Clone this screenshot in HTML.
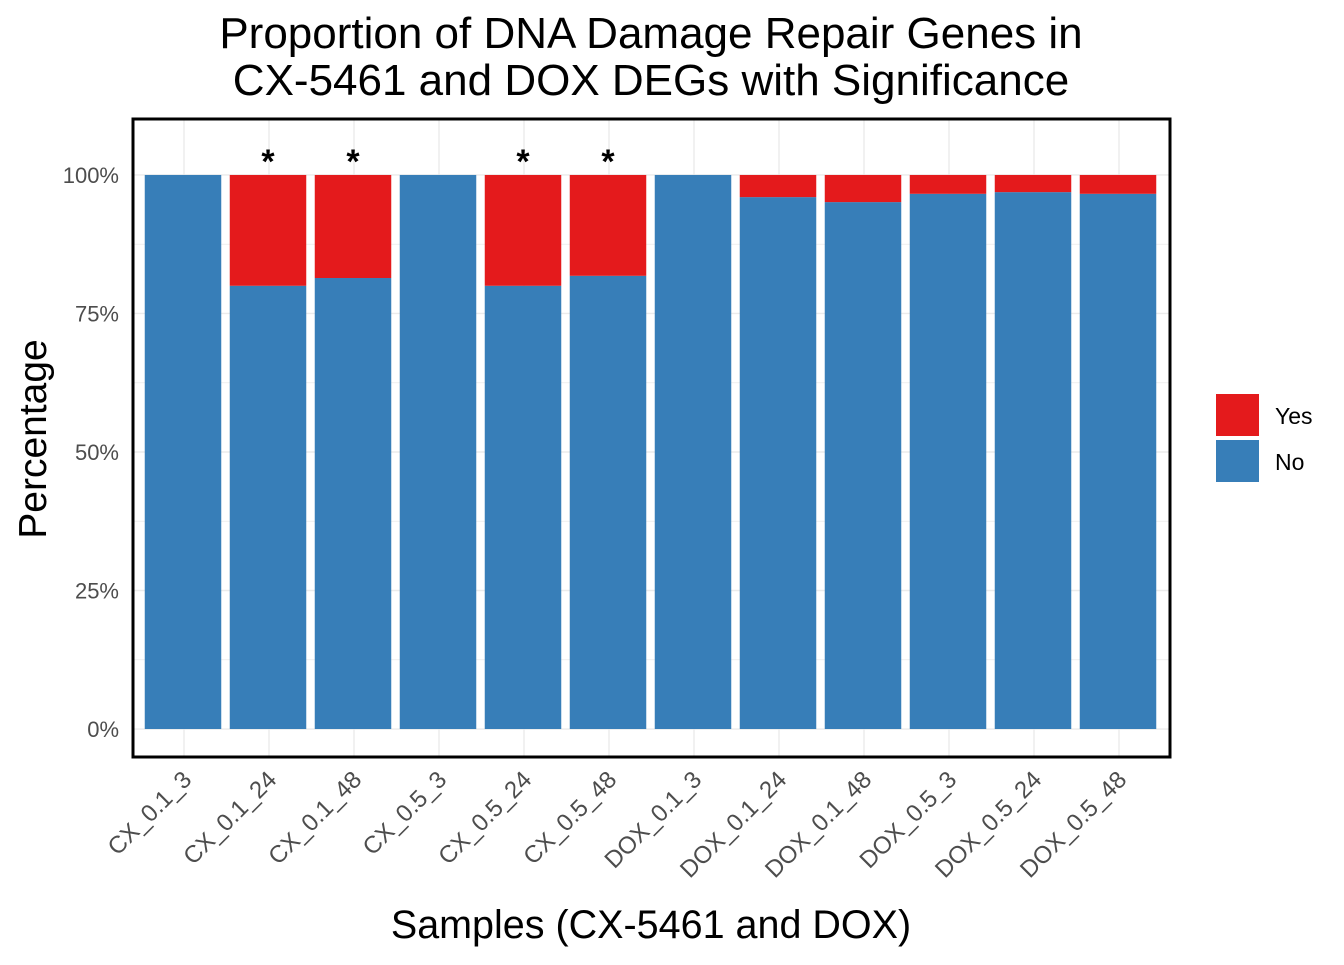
<!DOCTYPE html>
<html><head><meta charset="utf-8"><style>
body{margin:0;background:#fff;}
svg text{font-family:"Liberation Sans",Arial,sans-serif;}
</style></head><body>
<svg id="chart" width="1344" height="960" xmlns="http://www.w3.org/2000/svg">
<text x="651" y="48" text-anchor="middle" font-size="44">Proportion of DNA Damage Repair Genes in</text>
<text x="651" y="95" text-anchor="middle" font-size="44">CX-5461 and DOX DEGs with Significance</text>
<g id="grid"></g>
<g id="bars"></g>
<g id="stars"></g>
<rect x="133" y="119" width="1037" height="638" fill="none" stroke="#000" stroke-width="3"/>
<g id="yaxis"></g>
<g id="xaxis"></g>
<text x="651" y="938" text-anchor="middle" font-size="39.5">Samples (CX-5461 and DOX)</text>
<text transform="translate(46,439) rotate(-90)" text-anchor="middle" font-size="39">Percentage</text>
<rect x="1216" y="394" width="43" height="42" fill="#E41A1C"/>
<rect x="1216" y="440" width="43" height="42" fill="#377EB8"/>
<text x="1275" y="424" font-size="23">Yes</text>
<text x="1275" y="470" font-size="23">No</text>
</svg>
<script>
const categories=["CX_0.1_3","CX_0.1_24","CX_0.1_48","CX_0.5_3","CX_0.5_24","CX_0.5_48","DOX_0.1_3","DOX_0.1_24","DOX_0.1_48","DOX_0.5_3","DOX_0.5_24","DOX_0.5_48"];
const noValues=[100,80.0,81.4,100,80.0,81.8,100,96.0,95.1,96.6,96.9,96.6];
const significant=[false,true,true,false,true,true,false,false,false,false,false,false];
const yTicks=[0,25,50,75,100];
const yTickLabels=["0%","25%","50%","75%","100%"];
const NS="http://www.w3.org/2000/svg";
const x0=133,x1=1170,y0=119,y1=757;
const xs=i=>x0+(i+1-0.4)/12.2*(x1-x0);
const ys=v=>y1-(v+5.05)/115.15*(y1-y0);
const bw=0.9*(x1-x0)/12.2;
function mk(tag,attrs,parent){const e=document.createElementNS(NS,tag);for(const k in attrs)e.setAttribute(k,attrs[k]);document.getElementById(parent).appendChild(e);return e;}
for(let v=0;v<=100;v+=12.5){const major=v%25===0;
const l=mk("line",{x1:x0,x2:x1,y1:ys(v),y2:ys(v),stroke:"#ebebeb","stroke-width":major?1.4:0.7},"grid");

}
categories.forEach((c,i)=>{const l=mk("line",{x1:xs(i),x2:xs(i),y1:y0,y2:y1,stroke:"#ebebeb","stroke-width":1.4},"grid");

});
categories.forEach((c,i)=>{
const no=noValues[i];
const r1=mk("rect",{x:xs(i)-bw/2-1,y:ys(no),width:bw,height:ys(0)-ys(no),fill:"#377EB8"},"bars");


if(no<100){const r2=mk("rect",{x:xs(i)-bw/2-1,y:ys(100),width:bw,height:ys(no)-ys(100),fill:"#E41A1C"},"bars");

}
if(significant[i]){const s=mk("text",{x:xs(i)-1,y:ys(100)-2,"text-anchor":"middle","font-size":34,"font-weight":"bold"},"stars");s.textContent="*";

}
const t=mk("text",{transform:`translate(${xs(i)+9},${y1+24}) rotate(-45)`,"text-anchor":"end","font-size":24,fill:"#4d4d4d"},"xaxis");t.textContent=c;


});
yTicks.forEach((v,i)=>{const t=mk("text",{x:119,y:ys(v)+8,"text-anchor":"end","font-size":22,fill:"#4d4d4d"},"yaxis");t.textContent=yTickLabels[i];

});
</script>
</body></html>
